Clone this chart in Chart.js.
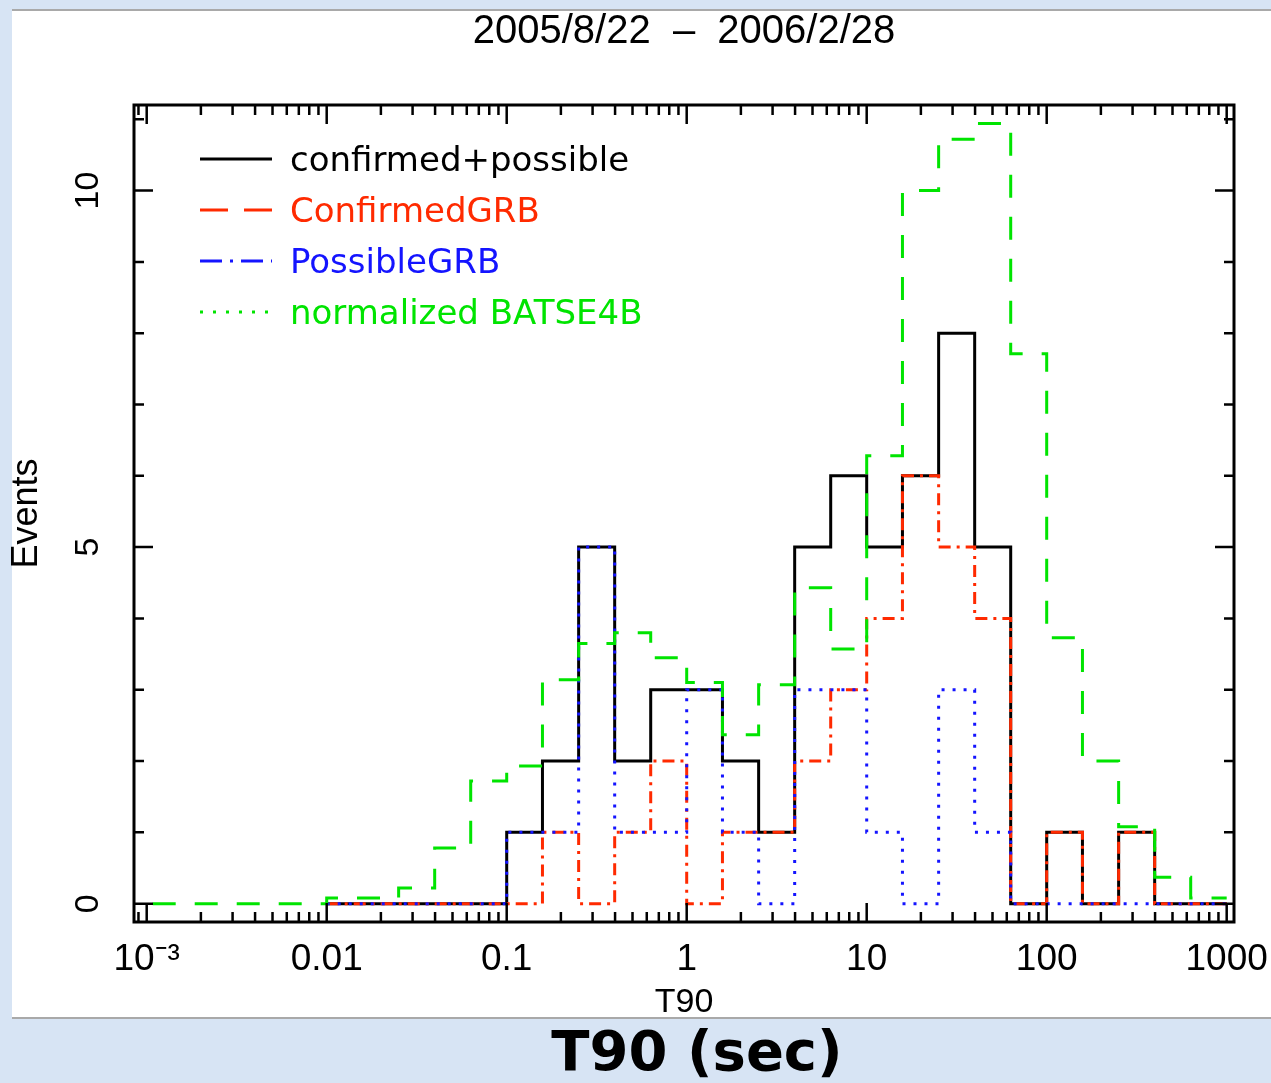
<!DOCTYPE html>
<html>
<head>
<meta charset="utf-8">
<title>T90 distribution</title>
<script src="https://cdn.jsdelivr.net/npm/chart.js@4"></script>
<style>
  html, body { margin: 0; padding: 0; background: #d7e4f4; }
  canvas { display: block; }
</style>
</head>
<body>
<canvas id="t90-chart" width="1271" height="1083"></canvas>
<script>
// log10 bins, 0.2 dex wide
const binEdges = [
  0.000631, 0.001, 0.00158, 0.00251, 0.00398, 0.00631,
  0.01, 0.0158, 0.0251, 0.0398, 0.0631,
  0.1, 0.158, 0.251, 0.398, 0.631,
  1, 1.58, 2.51, 3.98, 6.31,
  10, 15.8, 25.1, 39.8, 63.1,
  100, 158, 251, 398, 631, 1000
];

// normalized BATSE 4B, one value per bin from 0.000631 s
const batseEvents = [
  0,
  0, 0, 0, 0, 0,
  0.08, 0.08, 0.22, 0.78, 1.72,
  1.93, 3.14, 3.65, 3.8, 3.45,
  3.1, 2.37, 3.07, 4.43, 3.57,
  6.28, 10.0, 10.72, 10.94, 7.71,
  3.73, 2.0, 1.08, 0.37, 0.08
];

// GRB histograms start at 0.01 s
const grbFirstEdge = 6;
const allEvents = [
  0, 0, 0, 0, 0,
  1, 2, 5, 2, 3,
  3, 2, 1, 5, 6,
  5, 6, 8, 5, 0,
  1, 0, 1, 0, 0
];
const confirmedEvents = [
  0, 0, 0, 0, 0,
  0, 1, 0, 1, 2,
  0, 1, 1, 2, 3,
  4, 6, 5, 4, 0,
  1, 0, 1, 0, 0
];
const possibleEvents = [
  0, 0, 0, 0, 0,
  1, 1, 5, 1, 1,
  3, 1, 0, 3, 3,
  1, 0, 3, 1, 0,
  0, 0, 0, 0, 0
];

const seriesLabels = ['confirmed+possible', 'ConfirmedGRB', 'PossibleGRB', 'normalized BATSE4B'];
const decadeTicks = [0.001, 0.01, 0.1, 1, 10, 100, 1000];
const decadeLabels = ['10\u207B\u00B3', '0.01', '0.1', '1', '10', '100', '1000'];
const eventTicks = [0, 5, 10];

const seriesColors = ['#000000', '#ff2a00', '#1414ff', '#00e400'];
const plotDashes = [[], [12, 6, 3, 6], [3, 8], [23, 19]];
const legendDashes = [[], [28, 16], [22, 8, 3, 8], [3, 10]];

const sans = '"Liberation Sans", Arial, Helvetica, sans-serif';

// histogram outline: one point per left edge, plus the closing right edge
const toSteps = (edges, values) => {
  const pts = values.map((v, i) => ({x: edges[i], y: v}));
  pts.push({x: edges[values.length], y: values[values.length - 1]});
  return pts;
};

const panelBackground = {
  id: 'panelBackground',
  beforeDraw(chart) {
    const c = chart.ctx;
    c.save();
    c.fillStyle = '#d7e4f4';
    c.fillRect(0, 0, chart.width, chart.height);
    c.fillStyle = '#ffffff';
    c.fillRect(12, 10, chart.width - 12, 1008);
    c.fillStyle = '#a9a9a9';
    c.fillRect(12, 9, chart.width - 12, 2);
    c.fillRect(12, 1017, chart.width - 12, 2);
    c.restore();
  },
  afterDraw(chart) {
    const c = chart.ctx;
    c.save();
    c.fillStyle = '#000000';
    c.font = 'bold 56px "DejaVu Sans", sans-serif';
    c.textAlign = 'center';
    c.textBaseline = 'alphabetic';
    c.fillText('T90 (sec)', 697, 1070);
    c.restore();
  }
};

const frameTicks = {
  id: 'frameTicks',
  afterDatasetsDraw(chart) {
    const {ctx: c, chartArea: {left, right, top, bottom}, scales: {x, y}} = chart;
    c.save();
    c.setLineDash([]);
    c.strokeStyle = '#000000';
    c.lineWidth = 3;
    c.strokeRect(left, top, right - left, bottom - top);
    c.beginPath();
    for (let d = -4; d <= 3; d++) {
      for (let m = 1; m <= 9; m++) {
        const v = m * Math.pow(10, d);
        if (v < x.min || v > x.max) continue;
        const px = x.getPixelForValue(v);
        const len = m === 1 ? 19 : 10;
        c.moveTo(px, bottom);
        c.lineTo(px, bottom - len);
        c.moveTo(px, top);
        c.lineTo(px, top + len);
      }
    }
    for (let v = 0; v <= 11; v++) {
      const py = y.getPixelForValue(v);
      const len = v % 5 === 0 ? 19 : 10;
      c.moveTo(left, py);
      c.lineTo(left + len, py);
      c.moveTo(right, py);
      c.lineTo(right - len, py);
    }
    c.lineWidth = 2.5;
    c.stroke();
    c.restore();
  }
};

const insetLegend = {
  id: 'insetLegend',
  afterDatasetsDraw(chart) {
    const c = chart.ctx;
    const {left, top} = chart.chartArea;
    c.save();
    c.font = '34px "DejaVu Sans", sans-serif';
    c.textBaseline = 'middle';
    chart.data.datasets.forEach((ds, i) => {
      const yy = top + 54 + i * 51;
      c.strokeStyle = ds.borderColor;
      c.lineWidth = 3;
      c.setLineDash(legendDashes[i]);
      c.beginPath();
      c.moveTo(left + 66, yy);
      c.lineTo(left + 138, yy);
      c.stroke();
      c.fillStyle = ds.borderColor;
      c.fillText(ds.label, left + 156, yy + 3);
    });
    c.restore();
  }
};

const grbEdges = binEdges.slice(grbFirstEdge);
const seriesData = [
  toSteps(grbEdges, allEvents),
  toSteps(grbEdges, confirmedEvents),
  toSteps(grbEdges, possibleEvents),
  toSteps(binEdges, batseEvents)
];

const chartCtx = document.querySelector('#t90-chart').getContext('2d');

new Chart(chartCtx, {
  type: 'line',
  data: {
    datasets: seriesData.map((data, i) => ({
      label: seriesLabels[i],
      data,
      borderColor: seriesColors[i],
      borderWidth: 3,
      borderDash: plotDashes[i],
      stepped: 'before',
      fill: false,
      order: 4 - i,
    })),
  },
  options: {
    responsive: false,
    animation: false,
    devicePixelRatio: 1,
    layout: {
      padding: {left: 0, right: 37, top: 0, bottom: 0},
    },
    elements: {
      point: {radius: 0},
      line: {tension: 0, borderJoinStyle: 'miter', borderCapStyle: 'butt'},
    },
    scales: {
      x: {
        type: 'logarithmic',
        min: 0.00085,
        max: 1098,
        afterBuildTicks: (scale) => {
          scale.ticks = decadeTicks.map((value) => ({value}));
        },
        afterFit: (scale) => {
          scale.height = 161;
          scale.paddingLeft = 0;
          scale.paddingRight = 0;
        },
        grid: {display: false},
        border: {display: false},
        ticks: {
          autoSkip: false,
          maxRotation: 0,
          padding: 8,
          color: '#000000',
          font: {family: sans, size: 37},
          callback: (value) => decadeLabels[decadeTicks.indexOf(value)],
        },
        title: {
          display: true,
          text: 'T90',
          color: '#000000',
          font: {family: sans, size: 34},
          padding: {top: 0, bottom: 60},
        },
      },
      y: {
        min: -0.257,
        max: 11.2,
        afterBuildTicks: (scale) => {
          scale.ticks = eventTicks.map((value) => ({value}));
        },
        afterFit: (scale) => {
          scale.width = 134;
          scale.paddingTop = 0;
          scale.paddingBottom = 0;
        },
        grid: {display: false},
        border: {display: false},
        ticks: {
          minRotation: 90,
          maxRotation: 90,
          crossAlign: 'center',
          padding: 18,
          color: '#000000',
          font: {family: sans, size: 34},
        },
        title: {
          display: true,
          text: 'Events',
          color: '#000000',
          font: {family: sans, size: 36},
          padding: {top: 5, bottom: 0},
        },
      },
    },
    plugins: {
      legend: {display: false},
      tooltip: {enabled: false},
      title: {
        display: true,
        fullSize: false,
        text: '2005/8/22  \u2013  2006/2/28',
        color: '#000000',
        font: {family: sans, size: 40, weight: 'normal'},
        padding: {top: 8, bottom: 49},
      },
    },
  },
  plugins: [panelBackground, frameTicks, insetLegend],
});
</script>
</body>
</html>
